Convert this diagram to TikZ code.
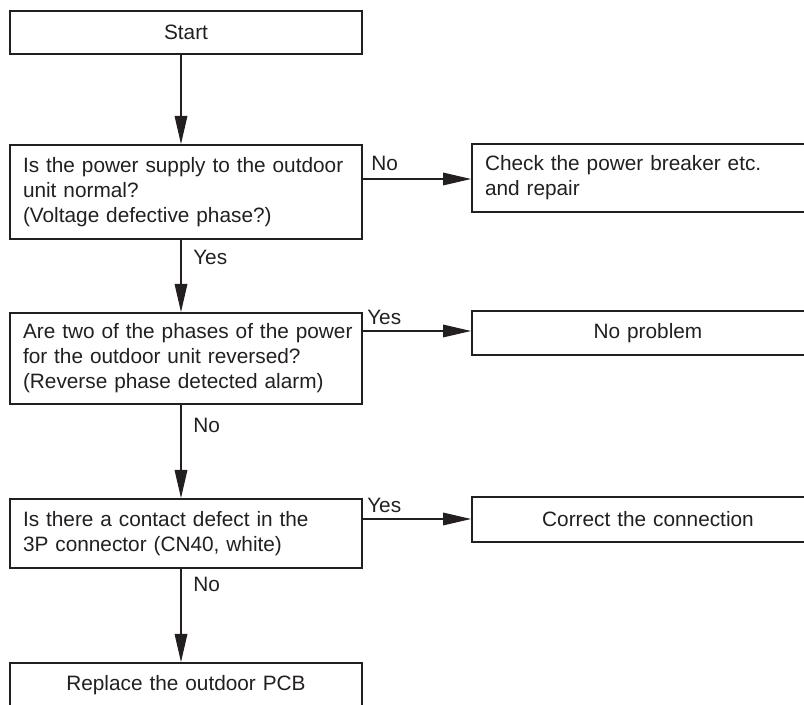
\documentclass[tikz,border=0pt]{standalone}
\usepackage{fontspec}
\setmainfont{Liberation Sans}
\usetikzlibrary{arrows.meta}
\definecolor{ink}{RGB}{35,31,32}
\newcommand{\oneline}[1]{\mbox{#1}}
\begin{document}
\begin{tikzpicture}[x=0.75pt,y=-0.75pt,
  every node/.style={font=\fontsize{15.6}{18.75}\selectfont, text=ink},
  box/.style={draw=ink, line width=1.5pt, rectangle, anchor=north west,
    minimum width=264pt, inner xsep=9.75pt, inner ysep=2pt, text width=244.5pt},
  lbox/.style={box, align=left},
  cbox/.style={box, align=center},
  arr/.style={draw=ink, line width=0.8pt, -{Triangle[length=21pt,width=9.5pt]}},
  lbl/.style={anchor=west, inner sep=0pt}]
\clip (0,0) rectangle (804,705);
\useasboundingbox (0,0) rectangle (804,705);
\coordinate (ax) at (181,0);

\node[cbox, minimum height=32.25pt] (start) at (9,10) {Start};
\node[lbox, minimum height=70.5pt] (q1) at (9,144) {\oneline{Is the power supply to the outdoor}\\\oneline{unit normal?}\\\oneline{(Voltage defective phase?)}};
\node[lbox, minimum height=51pt] (chk) at (471,143) {\oneline{Check the power breaker etc.}\\\oneline{and repair}};
\node[lbox, minimum height=68.25pt] (q2) at (9,312) {\oneline{Are two of the phases of the power}\\\oneline{for the outdoor unit reversed?}\\\oneline{(Reverse phase detected alarm)}};
\node[cbox, minimum height=33pt] (nop) at (471,310) {No problem};
\node[lbox, minimum height=51.75pt] (q3) at (9,498) {\oneline{Is there a contact defect in the}\\\oneline{3P connector (CN40, white)}};
\node[cbox, minimum height=33.75pt] (cor) at (471,496) {Correct the connection};
\node[cbox, minimum height=33pt] (rep) at (9,662) {Replace the outdoor PCB};

\draw[arr] (start.south -| ax) -- (q1.north -| ax);
\draw[arr] (q1.south -| ax) -- (q2.north -| ax);
\draw[arr] (q2.south -| ax) -- (q3.north -| ax);
\draw[arr] (q3.south -| ax) -- (rep.north -| ax);

\coordinate (h1) at (0,179);
\coordinate (h2) at (0,331);
\coordinate (h3) at (0,519);
\draw[arr] (q1.east |- h1) -- (chk.west |- h1);
\draw[arr] (q2.east |- h2) -- (nop.west |- h2);
\draw[arr] (q3.east |- h3) -- (cor.west |- h3);

\node[lbl] (l1) at (371,163) {No};
\node[lbl] (l2) at (193,257) {Yes};
\node[lbl] (l3) at (367,317) {Yes};
\node[lbl] (l4) at (193,425) {No};
\node[lbl] (l5) at (367,505) {Yes};
\node[lbl] (l6) at (193,584) {No};
\end{tikzpicture}
\end{document}
